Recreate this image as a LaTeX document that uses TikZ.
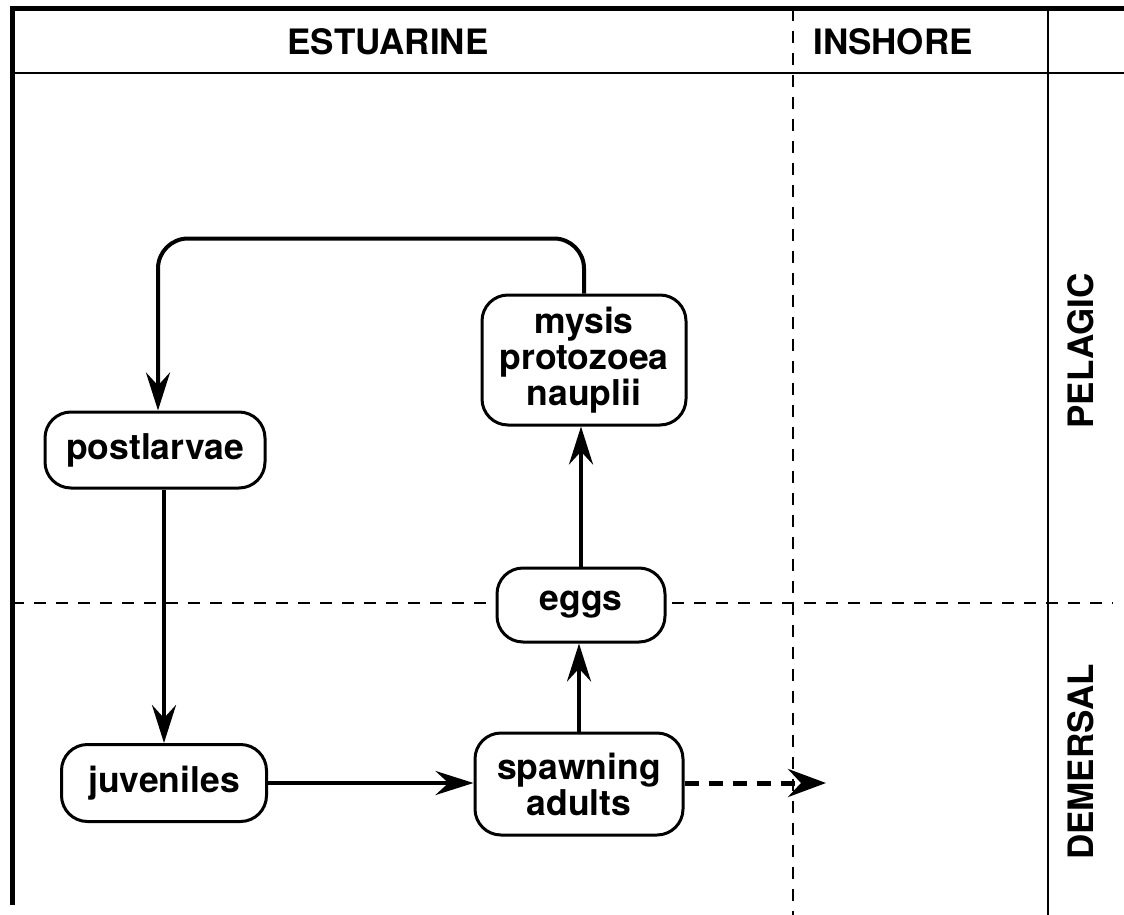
\documentclass[tikz,border=0pt]{standalone}
\usepackage{fontspec}
\setmainfont{TeX Gyre Heros}
\usetikzlibrary{arrows.meta,calc}
\begin{document}
\begin{tikzpicture}[x=1pt,y=-1pt,
  lbl/.style={font=\bfseries\fontsize{35}{37}\selectfont, inner sep=0pt},
  box/.style={draw, line width=3pt, rounded corners=26pt, fill=white, inner sep=0pt, align=center, font=\bfseries\fontsize{35.5}{36}\selectfont},
  flow/.style={line width=4pt, -{Stealth[length=38pt,width=24pt,inset=13pt]}},
  dflow/.style={line width=5pt, dash pattern=on 14pt off 10pt, -{Stealth[length=38pt,width=28pt,inset=13pt]}},
  frame/.style={line width=5pt},
  rule/.style={line width=2.5pt},
  zone/.style={line width=2.5pt, dash pattern=on 12pt off 10pt}
]
\useasboundingbox (0,0) rectangle (1124,915);
% frame
\draw[frame] (12,905) -- (12,9) -- (1124,9);
\draw[rule] (12,73) -- (1124,73);
\draw[rule] (1048,9) -- (1048,915);
\draw[zone] (793,9) -- (793,915);
\draw[zone] (12,603) -- (1113,603);
% headers
\node[lbl] (estuarine) at (388,42) {ESTUARINE};
\node[lbl] (inshore) at (893,42) {INSHORE};
\node[lbl, rotate=90] (pelagic) at (1081,351) {PELAGIC};
\node[lbl, rotate=90] (demersal) at (1081,762) {DEMERSAL};
% nodes
\node[box, minimum width=220pt, minimum height=76pt] (postlarvae) at (155,450) {postlarvae};
\node[box, minimum width=204pt, minimum height=130pt] (mysis) at (584,360) {mysis\\protozoea\\nauplii};
\node[box, minimum width=168pt, minimum height=74pt] (eggs) at (581,605) {eggs};
\node[box, minimum width=205pt, minimum height=77pt] (juveniles) at (164,783) {juveniles};
\node[box, minimum width=208pt, minimum height=102pt] (spawning) at (579,784) {spawning\\adults};
\coordinate (offshore) at (826,783);
% connectors
\draw[flow, rounded corners=30pt] (mysis.north) -- ++(0,-55) -| ([xshift=3pt]postlarvae.north);
\draw[flow] (postlarvae.south -| juveniles.north) -- (juveniles.north);
\draw[flow] (juveniles.east) -- (juveniles.east -| spawning.west);
\draw[flow] (spawning.north) -- (spawning.north |- eggs.south);
\draw[flow] (eggs.north) -- (eggs.north |- mysis.south);
\draw[dflow] (spawning.east |- offshore) -- (offshore);
\end{tikzpicture}
\end{document}
